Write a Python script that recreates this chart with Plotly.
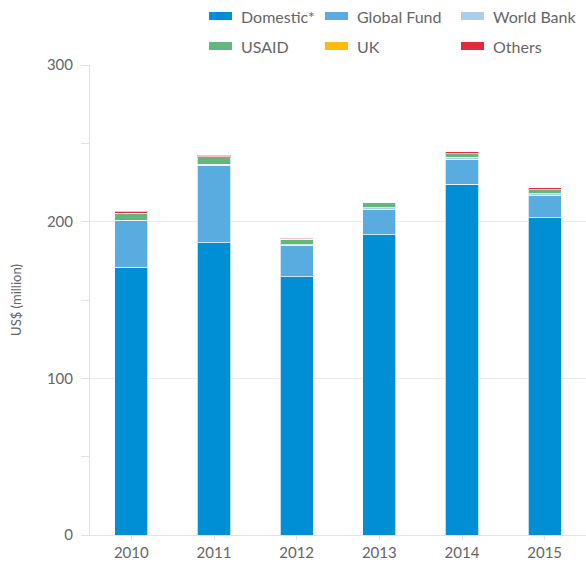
import plotly.graph_objects as go

years = ["2010", "2011", "2012", "2013", "2014", "2015"]
domestic = [171, 186.5, 165, 191.5, 224, 202.5]
global_fund = [29.5, 49.5, 19.5, 16.5, 16, 14]
world_bank = [0.5, 0.8, 0.7, 1.0, 1.0, 1.2]
usaid = [4.5, 4.5, 3.5, 3.5, 2.5, 2.6]
uk = [0, 0, 0, 0, 0, 0]
others = [1.3, 1.0, 0.8, 0, 1.0, 1.2]

series_names = ["Domestic*", "Global Fund", "World Bank", "USAID", "UK", "Others"]
series_values = [domestic, global_fund, world_bank, usaid, uk, others]
series_colors = ["#008fd5", "#58acdf", "#a9ceef", "#62b87a", "#fdbb10", "#e6283c"]

W, H = 586, 568
ML, MR, MT, MB = 90, 0, 65, 33
PW, PH = W - ML - MR, H - MT - MB

fig = go.Figure()
for name, vals, col in zip(series_names, series_values, series_colors):
    fig.add_trace(go.Bar(
        x=years, y=vals, name=name, showlegend=False,
        marker=dict(color=col, line=dict(color="rgba(255,255,255,0.7)", width=1)),
    ))

font = "Lato, 'Noto Sans', sans-serif"
grey = "#666666"

# custom legend (3 columns x 2 rows) above the plot
col_x = [209, 325, 461]
row_y = [16, 46]
shapes, annots = [], []
for i, (name, col) in enumerate(zip(series_names, series_colors)):
    r, c = divmod(i, 3)
    x0 = col_x[c]
    yc = row_y[r]
    shapes.append(dict(
        type="rect", xref="paper", yref="paper",
        x0=(x0 - ML) / PW, x1=(x0 + 23 - ML) / PW,
        y0=(H - MB - (yc + 4)) / PH, y1=(H - MB - (yc - 4)) / PH,
        fillcolor=col, line=dict(width=0),
    ))
    annots.append(dict(
        xref="paper", yref="paper", x=(x0 + 30 - ML) / PW, y=(H - MB - yc) / PH,
        xanchor="left", yanchor="middle", text=name, showarrow=False,
        font=dict(size=16, color=grey, family=font),
    ))

fig.update_layout(
    barmode="stack",
    bargap=0.6,
    width=W, height=H,
    margin=dict(l=ML, r=MR, t=MT, b=MB),
    plot_bgcolor="white", paper_bgcolor="white",
    font=dict(family=font, color=grey, size=15),
    showlegend=False,
    shapes=shapes, annotations=annots,
)
fig.update_xaxes(
    showline=True, linecolor="#e3e3e3", linewidth=1,
    ticks="outside", ticklen=4, tickcolor="#e3e3e3",
    tickfont=dict(size=15, color=grey),
)
fig.update_yaxes(
    range=[0, 300], dtick=100, showgrid=True, gridcolor="#ebebeb",
    showline=True, linecolor="#e3e3e3", linewidth=1,
    ticks="outside", ticklen=8, tickcolor="#e3e3e3",
    minor=dict(dtick=50, ticks="outside", ticklen=8, tickcolor="#e3e3e3", showgrid=False),
    zeroline=False, ticklabelstandoff=5,
    tickfont=dict(size=15, color=grey),
    title=dict(text="US$ (million)", font=dict(size=13, color=grey), standoff=22),
)
fig.write_html(
    "out.html",
    config={"displayModeBar": False},
    post_script="document.body.style.margin='0';document.body.style.overflow='hidden';",
)
